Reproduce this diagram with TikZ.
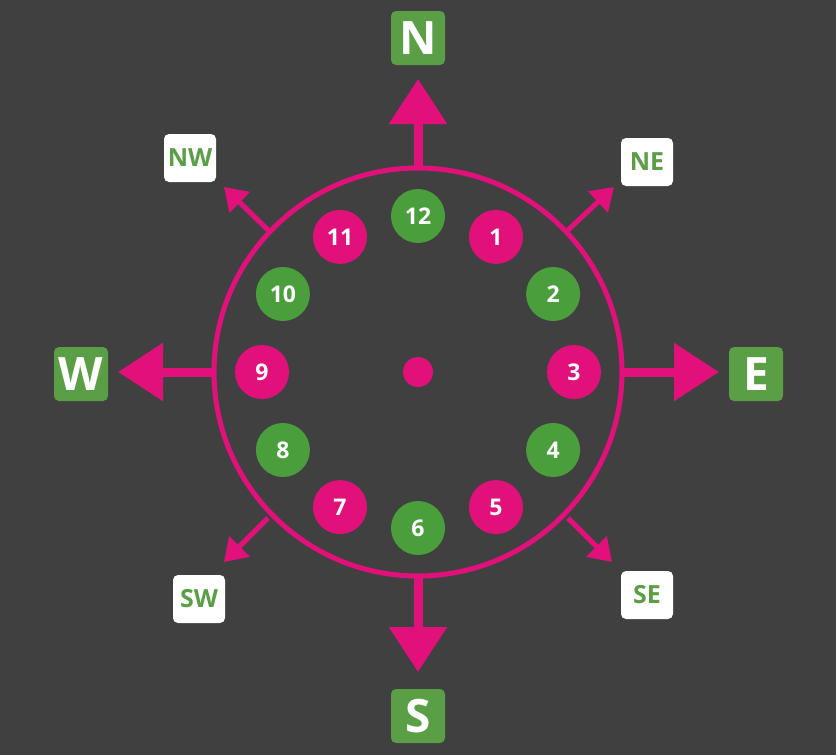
\documentclass[tikz,border=0pt]{standalone}
\usepackage{fontspec}
\setmainfont{Open Sans}
\usetikzlibrary{arrows.meta,calc}
\definecolor{bg}{HTML}{404041}
\definecolor{mag}{HTML}{E2107B}
\definecolor{grn}{HTML}{4A9E3B}
\definecolor{lgrn}{HTML}{5A9E45}
\begin{document}
\begin{tikzpicture}[x=1pt,y=-1pt,
  num/.style={circle,minimum size=54pt,inner sep=0pt,text=white,font=\bfseries\fontsize{23}{23}\selectfont},
  pk/.style={num,fill=mag},
  gn/.style={num,fill=grn},
  big/.style={fill=lgrn,text=white,rounded corners=5pt,minimum width=54pt,minimum height=54pt,inner sep=0pt,font=\bfseries\fontsize{46}{46}\selectfont},
  small/.style={fill=white,text=lgrn,rounded corners=5pt,minimum width=52pt,minimum height=48pt,inner sep=0pt,font=\bfseries\fontsize{25}{25}\selectfont},
  mainarr/.style={draw=mag,line width=9pt,-{Triangle[length=45pt,width=56pt]}},
  diagarr/.style={draw=mag,line width=5pt,-{Triangle[length=22pt,width=28pt]}}]
\fill[bg] (0,0) rectangle (836,755);
\coordinate (c) at (418,372);
\draw[mag,line width=5pt] (c) circle (204);
\node[circle,fill=mag,minimum size=30pt,inner sep=0pt] (dot) at (c) {};
\foreach \n/\a/\s in {12/90/gn,1/60/pk,2/30/gn,3/0/pk,4/-30/gn,5/-60/pk,6/-90/gn,7/-120/pk,8/-150/gn,9/180/pk,10/150/gn,11/120/pk}
  \node[\s] (h\n) at ($(c)+({156*cos(\a)},{-156*sin(\a)})$) {\n};
\node[big] (N) at (418,38) {N};
\node[big] (E) at (756,374) {E};
\node[big] (S) at (418,716) {S};
\node[big] (W) at (81,374) {W};
\node[small] (NW) at (190,158) {NW};
\node[small] (NE) at (647,162) {NE};
\node[small] (SW) at (199,599) {SW};
\node[small] (SE) at (647,595) {SE};
\coordinate (n0) at (418,170); \coordinate (n1) at (418,79);
\coordinate (e0) at (622,372); \coordinate (e1) at (719,372);
\coordinate (s0) at (418,578); \coordinate (s1) at (418,672);
\coordinate (w0) at (214,372); \coordinate (w1) at (118,372);
\draw[mainarr] (n0) -- (n1);
\draw[mainarr] (e0) -- (e1);
\draw[mainarr] (s0) -- (s1);
\draw[mainarr] (w0) -- (w1);
\coordinate (ne0) at (568,230); \coordinate (ne1) at (614,187);
\coordinate (nw0) at (268,230); \coordinate (nw1) at (224,187);
\coordinate (se0) at (568,518); \coordinate (se1) at (612,562);
\coordinate (sw0) at (268,518); \coordinate (sw1) at (224,562);
\draw[diagarr] (ne0) -- (ne1);
\draw[diagarr] (nw0) -- (nw1);
\draw[diagarr] (se0) -- (se1);
\draw[diagarr] (sw0) -- (sw1);
\end{tikzpicture}
\end{document}
